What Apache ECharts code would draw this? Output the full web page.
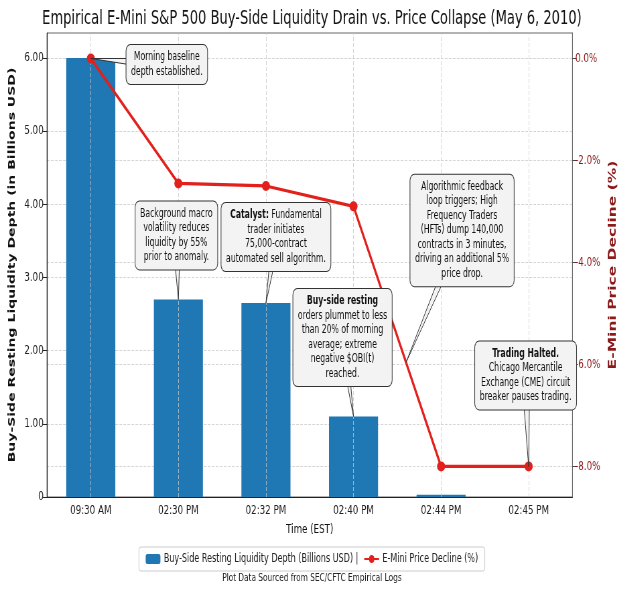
<!DOCTYPE html>
<html>
<head>
<meta charset="utf-8">
<script src="https://cdn.jsdelivr.net/npm/echarts@6/dist/echarts.min.js"></script>
<style>
  html, body { margin: 0; padding: 0; background: #fff; overflow: hidden; }
  #main { height: 589px; transform-origin: 0 0; }
</style>
</head>
<body>
<div id="main"></div>
<script>
// data
const times = ['09:30 AM', '02:30 PM', '02:32 PM', '02:40 PM', '02:44 PM', '02:45 PM'];
const depth = [6.0, 2.7, 2.65, 1.1, 0.03, 0];          // billions USD
const decline = [0.0, -2.45, -2.5, -2.9, -8.0, -8.0];  // percent
const depthTicks = [0, 1, 2, 3, 4, 5, 6];
const declineTicks = [0, -2, -4, -6, -8];

const barName = 'Buy-Side Resting Liquidity Depth (Billions USD)';
const lineName = 'E-Mini Price Decline (%)';

// the reference is squeezed horizontally, so draw wide and squeeze the same way
const S = 0.67;
const W = Math.round(624 / S);
const el = document.getElementById('main');
el.style.width = W + 'px';
el.style.transform = 'scaleX(' + S + ')';

const FONT = "'DejaVu Sans', sans-serif";
const DARKRED = '#8b1a1a';
const GRID = '#d6d6d6';

const chart = echarts.init(el);

chart.setOption({
  animation: false,
  backgroundColor: '#fff',
  textStyle: { fontFamily: FONT },
  title: [
    {
      text: 'Empirical E-Mini S&P 500 Buy-Side Liquidity Drain vs. Price Collapse (May 6, 2010)',
      left: 'center', top: 4,
      textStyle: { fontSize: 19.5, fontWeight: 'normal', color: '#111', fontFamily: FONT }
    },
    {
      text: 'Plot Data Sourced from SEC/CFTC Empirical Logs',
      left: 'center', bottom: 0,
      textStyle: { fontSize: 11, fontWeight: 'normal', color: '#222', fontFamily: FONT }
    }
  ],
  grid: {
    left: 47 / S, right: 38 / S, top: 33, bottom: 92,
    show: true, borderColor: '#666', borderWidth: 1
  },
  legend: {
    bottom: 18, left: 'center',
    data: [barName, lineName],
    itemWidth: 22, itemHeight: 10, itemGap: 8,
    padding: [6, 10],
    borderColor: '#ccc', borderWidth: 1, borderRadius: 3,
    formatter: n => n === barName ? n + ' |' : n,
    textStyle: { fontSize: 12, color: '#222', fontFamily: FONT }
  },
  xAxis: {
    type: 'category',
    data: times,
    name: 'Time (EST)', nameLocation: 'middle', nameGap: 26,
    nameTextStyle: { fontSize: 13, color: '#111' },
    axisLine: { lineStyle: { color: '#222', width: 1.2 } },
    axisTick: { alignWithLabel: true, length: 4, lineStyle: { color: '#222' } },
    axisLabel: { fontSize: 13, color: '#222', margin: 7 },
    splitLine: { show: false }
  },
  yAxis: [
    {
      type: 'value', min: 0, max: 6.34,
      name: 'Buy-Side Resting Liquidity Depth (in Billions USD)',
      nameLocation: 'middle', nameGap: 29 / S,
      nameTextStyle: { fontSize: 14, fontWeight: 'bold', color: '#111' },
      axisLine: { show: true, lineStyle: { color: '#222', width: 1.2 } },
      axisTick: { show: true, length: 6, customValues: depthTicks, lineStyle: { color: '#222' } },
      axisLabel: {
        customValues: depthTicks, fontSize: 13, color: '#222', margin: 5,
        formatter: v => v === 0 ? '0' : v.toFixed(2)
      },
      splitLine: { show: true, lineStyle: { color: GRID, type: 'dashed', width: 1 } }
    },
    {
      type: 'value', min: -8.6, max: 0.5, position: 'right',
      name: 'E-Mini Price Decline (%)',
      nameLocation: 'middle', nameGap: 31 / S,
      nameTextStyle: { fontSize: 15.5, fontWeight: 'bold', color: DARKRED },
      axisLine: { show: true, lineStyle: { color: '#666', width: 1 } },
      axisTick: { show: true, length: 6, customValues: declineTicks, lineStyle: { color: '#444' } },
      axisLabel: {
        customValues: declineTicks, fontSize: 13, color: DARKRED, margin: 4,
        formatter: v => v.toFixed(1) + '%'
      },
      splitLine: { show: true, lineStyle: { color: GRID, type: 'dashed', width: 1 } }
    }
  ],
  series: [
    {
      name: barName,
      type: 'bar',
      data: depth,
      barWidth: '56%',
      itemStyle: { color: '#1f77b4' },
      z: 2,
      markLine: {
        silent: true, symbol: 'none', label: { show: false },
        lineStyle: { color: '#c8c8c8', type: 'dashed', width: 1, opacity: 0.8 },
        data: times.map(t => ({ xAxis: t }))
      }
    },
    {
      name: lineName,
      type: 'line',
      yAxisIndex: 1,
      data: decline,
      z: 5,
      color: '#e3211c',
      lineStyle: { width: 3.2, color: '#e3211c' },
      symbol: 'circle', symbolSize: [12, 10],
      itemStyle: { color: '#e3211c' }
    }
  ]
});

// callout boxes: anchor in data, box offset in reference pixels
const notes = [
  { x: 0, y: decline[0], axis: 1, dx: 76, dy: 6,
    text: 'Morning baseline\ndepth established.' },
  { x: 1, y: depth[1], axis: 0, dx: -2, dy: -64,
    text: 'Background macro\nvolatility reduces\nliquidity by 55%\nprior to anomaly.' },
  { x: 2, y: depth[2], axis: 0, dx: 10, dy: -66,
    text: '{b|Catalyst:} Fundamental\ntrader initiates\n75,000-contract\nautomated sell algorithm.' },
  { x: 3, y: depth[3], axis: 0, dx: -11, dy: -79,
    text: '{b|Buy-side resting}\norders plummet to less\nthan 20% of morning\naverage; extreme\nnegative $OBI(t)\nreached.' },
  { x: 3.6, y: decline[3] + 0.6 * (decline[4] - decline[3]), axis: 1, dx: 56, dy: -132,
    text: 'Algorithmic feedback\nloop triggers; High\nFrequency Traders\n(HFTs) dump 140,000\ncontracts in 3 minutes,\ndriving an additional 5%\nprice drop.' },
  { x: 5, y: decline[5], axis: 1, dx: -3, dy: -91,
    text: '{b|Trading Halted.}\nChicago Mercantile\nExchange (CME) circuit\nbreaker pauses trading.' }
];

function toPx(x, y, axis) {
  const i = Math.floor(x), f = x - i;
  const a = chart.convertToPixel({ xAxisIndex: 0, yAxisIndex: axis }, [i, y]);
  if (!f) return a;
  const b = chart.convertToPixel({ xAxisIndex: 0, yAxisIndex: axis }, [i + 1, y]);
  return [a[0] + f * (b[0] - a[0]), a[1]];
}

const BOX = '#f3f3f3';
const graphic = [];
notes.forEach(n => {
  const p = toPx(n.x, n.y, n.axis);
  const cx = p[0] + n.dx / S, cy = p[1] + n.dy;
  const vx = p[0] - cx, vy = p[1] - cy, len = Math.hypot(vx, vy);
  const nx = -vy / len * 6, ny = vx / len * 6;
  graphic.push({
    type: 'polygon', z: 100,
    shape: { points: [[cx + nx, cy + ny], [p[0], p[1]], [cx - nx, cy - ny]] },
    style: { fill: BOX, stroke: '#333', lineWidth: 1 }
  });
  graphic.push({
    type: 'text', z: 101, x: cx, y: cy,
    style: {
      text: n.text, align: 'center', verticalAlign: 'middle',
      fill: '#111', fontSize: 11.5, fontFamily: FONT, lineHeight: 14.5,
      backgroundColor: BOX, borderColor: '#333', borderWidth: 1, borderRadius: 6,
      padding: [5, 7],
      rich: { b: { fontSize: 11.5, fontFamily: FONT, fontWeight: 'bold', lineHeight: 14.5, fill: '#111' } }
    }
  });
});
chart.setOption({ graphic });
</script>
</body>
</html>
